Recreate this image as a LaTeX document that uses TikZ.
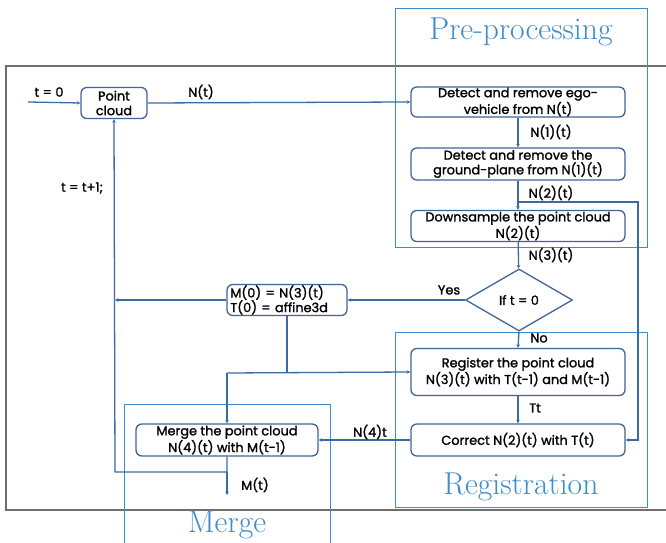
\documentclass[tikz,border=0pt]{standalone}
\usepackage{fontspec}
\newfontfamily\flowfont{Poppins}[FakeBold=1.5]
\usetikzlibrary{shapes.geometric,arrows.meta}
\definecolor{flowblue}{HTML}{3C6AA3}
\definecolor{boxblue}{HTML}{3F6396}
\definecolor{grpblue}{HTML}{3D8CCB}
\definecolor{outergray}{HTML}{6E6E6E}
\tikzset{
  procbox/.style={draw=boxblue,rounded corners=5pt,line width=1.1pt,align=center,
    font=\flowfont\fontsize{11}{12.5}\selectfont,inner sep=0pt},
  decide/.style={diamond,draw=boxblue,line width=1.1pt,inner sep=0pt,aspect=1.73,
    minimum width=3.21cm,minimum height=1.86cm,font=\flowfont\fontsize{11}{12.5}\selectfont},
  conn/.style={draw=flowblue,line width=1.1pt,-{Stealth[length=3pt,width=3pt]}},
  wire/.style={draw=flowblue,line width=1.1pt},
  lbl/.style={font=\flowfont\fontsize{11}{12.5}\selectfont,inner sep=0pt},
  grpbox/.style={draw=grpblue,line width=0.8pt},
  grplabel/.style={text=grpblue,font=\fontsize{27}{29}\selectfont,inner sep=0pt}
}
\begin{document}
\begin{tikzpicture}[x=0.03cm,y=-0.03cm]
  \useasboundingbox (0,0) rectangle (666,543);
  % frame and groups
  \draw[outergray,line width=0.9pt] (670,66) -- (6,66) -- (6,510) -- (670,510);
  \draw[grpbox] (395,8) rectangle (647,247);
  \draw[grpbox] (395,332) rectangle (647,507);
  \draw[grpbox] (124,546) -- (124,404) -- (330,404) -- (330,546);
  \node[grplabel] (tpre) at (521,32) {Pre-processing};
  \node[grplabel] (treg) at (521,487) {Registration};
  \node[grplabel] (tmrg) at (227,525) {Merge};
  % steps
  \node[procbox,minimum width=1.98cm,minimum height=0.93cm] (cloud) at (114,103) {Point\\cloud};
  \node[procbox,minimum width=6.42cm,minimum height=0.90cm] (ego) at (518,102) {Detect and remove ego-\\vehicle from N(t)};
  \node[procbox,minimum width=6.42cm,minimum height=0.96cm] (ground) at (518,164) {Detect and remove the\\ground-plane from N(1)(t)};
  \node[procbox,minimum width=6.42cm,minimum height=0.93cm] (down) at (518,226) {Downsample the point cloud\\N(2)(t)};
  \node[decide] (ift) at (519,300) {If t = 0};
  \node[procbox,align=left,minimum width=3.6cm,minimum height=0.93cm,text width=3.4cm] (init) at (287,300) {M(0) = N(3)(t)\\T(0) = affine3d};
  \node[procbox,minimum width=6.42cm,minimum height=1.41cm] (reg) at (518,372) {Register the point cloud\\N(3)(t) with T(t-1) and M(t-1)};
  \node[procbox,minimum width=6.42cm,minimum height=0.96cm] (corr) at (518,440) {Correct N(2)(t) with T(t)};
  \node[procbox,minimum width=5.46cm,minimum height=0.96cm] (merge) at (227,440) {Merge the point cloud\\N(4)(t) with M(t-1)};
  % helper points
  \coordinate (start) at (28,102);
  \coordinate (fbin) at (115,300);
  \coordinate (fbbot) at (115,472);
  \coordinate (mtap) at (227,472);
  \coordinate (mout) at (227,495);
  \coordinate (ntwo) at (518,202);
  \coordinate (njog) at (287,373);
  \coordinate (nleft) at (227,373);
  % connectors
  \foreach \from/\to in {start/cloud.west,cloud.east/ego.west,ego/ground,ground/down,
    down/ift,ift.west/init.east,init.west/fbin,ift.south/reg.north,reg/corr,
    corr.west/merge.east,mtap/mout,nleft/merge.north}
    \draw[conn] (\from) -- (\to);
  \draw[wire] (init.south) -- (njog);
  \draw[conn] (nleft) -- (reg.west);
  \draw[conn] (ntwo) -- (638,202) -- (638,440) -- (corr.east);
  \draw[conn] (merge.south) -- (mtap) -- (fbbot) -- (cloud.south);
  % labels
  \node[lbl] (lt0) at (49,92) {t = 0};
  \node[lbl] (lnt) at (201,92) {N(t)};
  \node[lbl] (ln1) at (551,132) {N(1)(t)};
  \node[lbl] (ln2) at (551,193) {N(2)(t)};
  \node[lbl] (ln3) at (551,255) {N(3)(t)};
  \node[lbl] (lyes) at (449,290) {Yes};
  \node[lbl] (lno) at (539,338) {No};
  \node[lbl] (ltt) at (535,408) {Tt};
  \node[lbl] (ln4) at (370,432) {N(4)t};
  \node[lbl] (lmt) at (255,485) {M(t)};
  \node[lbl] (linc) at (82,188) {t = t+1;};
\end{tikzpicture}
\end{document}
